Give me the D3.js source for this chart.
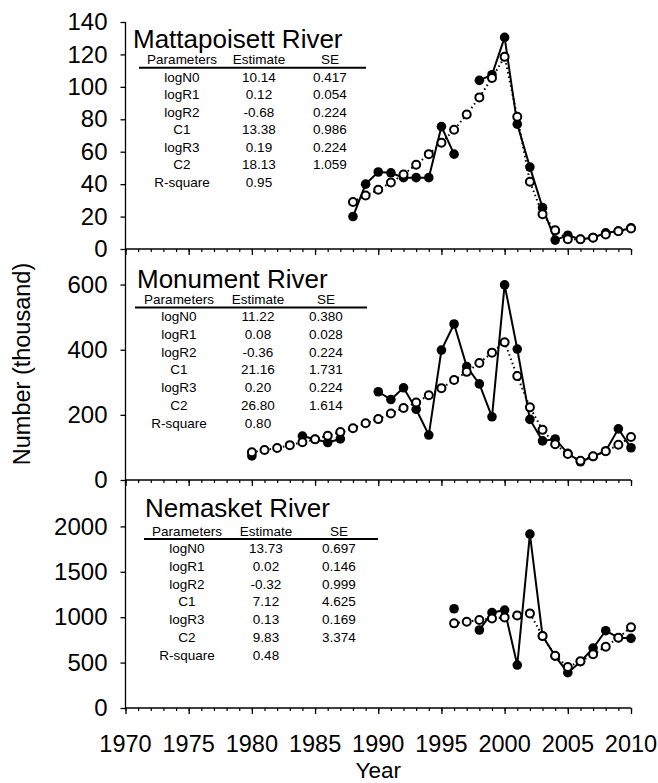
<!DOCTYPE html>
<html><head><meta charset="utf-8">
<script src="https://cdn.jsdelivr.net/npm/d3@7/dist/d3.min.js"></script>
<style>body{margin:0;background:#fff}svg{display:block;font-family:"Liberation Sans",Arial,sans-serif}</style>
</head><body><svg id="c" width="658" height="783"></svg>
<script>
// ---------- data ----------
const years1 = d3.range(1988, 2011);
const observed1 = [20, 40, 47.5, 47, 44, 44, 44, 75.5, 58.5, null, 104, 107.5, 130.5, 77, 50.5, 25.5, 5.5, 8.5, 6, 7, 10, 11, 13];
const predicted1 = [29, 33, 36.5, 41, 46, 52, 58.5, 65.5, 73.5, 83, 93.5, 105.5, 118.5, 81.5, 41.5, 21.5, 11.5, 6, 6, 7, 9, 11, 12.7];

const years2 = d3.range(1980, 2011);
const observed2 = [74, null, null, null, 135, 125, 115, 126, null, null, 271, 247, 283, 217, 138, 399, 479, 348, 295, 194, 599, 402, 186, 120, 126, 82, 56, 72, 89, 157, 99];
const predicted2 = [85, 92, 98, 107, 116, 125, 136, 147, 159, 174, 187, 204, 221, 238, 260, 282, 307, 332, 359, 391, 423, 319, 223, 154, 110, 80, 59, 73, 88, 108, 132];

const years3 = d3.range(1996, 2011);
const observed3 = [1093, null, 859, 1050, 1079, 473, 1916, 793, 572, 389, 510, 660, 851, 774, 767];
const predicted3 = [932, 950, 969, 987, 998, 1020, 1042, 793, 576, 451, 514, 591, 675, 774, 888];

const riverNames = ["Mattapoisett River", "Monument River", "Nemasket River"];
const yMax = [140, 700, 2500];
const yTicks1 = [0, 20, 40, 60, 80, 100, 120, 140];
const yTicks2 = [0, 200, 400, 600];
const yTicks3 = [0, 500, 1000, 1500, 2000];
const xTickLabels = [1970, 1975, 1980, 1985, 1990, 1995, 2000, 2005, 2010];

const tableHeader = ["Parameters", "Estimate", "SE"];
const paramNames = ["logN0", "logR1", "logR2", "C1", "logR3", "C2", "R-square"];
const estimates1 = ["10.14", "0.12", "-0.68", "13.38", "0.19", "18.13", "0.95"];
const se1 = ["0.417", "0.054", "0.224", "0.986", "0.224", "1.059", ""];
const estimates2 = ["11.22", "0.08", "-0.36", "21.16", "0.20", "26.80", "0.80"];
const se2 = ["0.380", "0.028", "0.224", "1.731", "0.224", "1.614", ""];
const estimates3 = ["13.73", "0.02", "-0.32", "7.12", "0.13", "9.83", "0.48"];
const se3 = ["0.697", "0.146", "0.999", "4.625", "0.169", "3.374", ""];

// ---------- layout ----------
const svg = d3.select("#c");
const axisX = 125.5;
const x = d3.scaleLinear().domain([1970, 2010]).range([axisX, 631]);

const panels = [
  {years: years1, obs: observed1, pred: predicted1, max: yMax[0], ticks: yTicks1, range: [249, 22], est: estimates1, se: se1,
   title: {x: 133, y: 47.5}, head: 64.3, line: {y: 67.7, x1: 139, x2: 366}, row0: 82, step: 17.45, cols: [182, 259, 330]},
  {years: years2, obs: observed2, pred: predicted2, max: yMax[1], ticks: yTicks2, range: [480, 252], est: estimates2, se: se2,
   title: {x: 137, y: 287.5}, head: 304.3, line: {y: 307.5, x1: 135, x2: 367}, row0: 320.7, step: 17.9, cols: [179, 258, 326]},
  {years: years3, obs: observed3, pred: predicted3, max: yMax[2], ticks: yTicks3, range: [708, 481], est: estimates3, se: se3,
   title: {x: 145, y: 516.7}, head: 535.7, line: {y: 539, x1: 144, x2: 378}, row0: 553, step: 17.8, cols: [187, 266, 339]}
];

// continuous y axis line
svg.append("line").attr("x1", axisX).attr("x2", axisX).attr("y1", 22).attr("y2", 708)
  .attr("stroke", "#000").attr("stroke-width", 1.3);

panels.forEach((p, i) => {
  const y = d3.scaleLinear().domain([0, p.max]).range(p.range);
  const base = p.range[0];

  // y axis
  const ya = svg.append("g").attr("transform", `translate(${axisX},0)`)
    .call(d3.axisLeft(y).tickValues(p.ticks).tickSize(5).tickPadding(13).tickFormat(d3.format("d")));
  ya.select(".domain").remove();
  ya.selectAll("line").attr("stroke-width", 1.3);
  ya.selectAll("text").attr("font-size", 24).attr("fill", "#000").attr("font-family", "Liberation Sans, Arial, sans-serif");

  // x axis: minor and major ticks
  const xm = svg.append("g").attr("transform", `translate(0,${base})`)
    .call(d3.axisBottom(x).tickValues(d3.range(1970, 2011)).tickSize(3).tickFormat(""));
  xm.select(".domain").remove();
  xm.selectAll("line").attr("stroke-width", 1.2);
  const xM = svg.append("g").attr("transform", `translate(0,${base})`)
    .call(d3.axisBottom(x).tickValues(xTickLabels).tickSize(6).tickFormat(""));
  xM.select(".domain").remove();
  xM.selectAll("line").attr("stroke-width", 1.3);
  svg.append("line").attr("x1", axisX).attr("x2", x(2010)).attr("y1", base).attr("y2", base)
    .attr("stroke", "#000").attr("stroke-width", 1.3);

  const obsPts = p.years.map((yr, k) => ({yr, v: p.obs[k]}));
  const predPts = p.years.map((yr, k) => ({yr, v: p.pred[k]}));
  const line = d3.line().defined(d => d.v != null).x(d => x(d.yr)).y(d => y(d.v));

  svg.append("path").datum(obsPts).attr("d", line).attr("fill", "none")
    .attr("stroke", "#000").attr("stroke-width", 2);
  svg.append("path").datum(predPts).attr("d", line).attr("fill", "none")
    .attr("stroke", "#000").attr("stroke-width", 2).attr("stroke-dasharray", "1.5,3");

  svg.append("g").selectAll("circle").data(obsPts.filter(d => d.v != null)).join("circle")
    .attr("cx", d => x(d.yr)).attr("cy", d => y(d.v)).attr("r", 4.8).attr("fill", "#000");
  svg.append("g").selectAll("circle").data(predPts).join("circle")
    .attr("cx", d => x(d.yr)).attr("cy", d => y(d.v)).attr("r", 4)
    .attr("fill", "#fff").attr("stroke", "#000").attr("stroke-width", 2);

  // title and table
  svg.append("text").attr("x", p.title.x).attr("y", p.title.y).attr("font-size", 26).text(riverNames[i]);
  const tg = svg.append("g").attr("font-size", 13.5).attr("text-anchor", "middle");
  tableHeader.forEach((h, c) => tg.append("text").attr("x", p.cols[c]).attr("y", p.head).text(h));
  tg.append("line").attr("x1", p.line.x1).attr("x2", p.line.x2).attr("y1", p.line.y).attr("y2", p.line.y)
    .attr("stroke", "#000").attr("stroke-width", 2);
  paramNames.forEach((n, r) => {
    const yy = p.row0 + r * p.step;
    tg.append("text").attr("x", p.cols[0]).attr("y", yy).text(n);
    tg.append("text").attr("x", p.cols[1]).attr("y", yy).text(p.est[r]);
    tg.append("text").attr("x", p.cols[2]).attr("y", yy).text(p.se[r]);
  });
});

// x tick labels (bottom)
svg.append("g").attr("font-size", 23.5).attr("text-anchor", "middle").selectAll("text")
  .data(xTickLabels).join("text").attr("x", d => x(d)).attr("y", 752).text(d => d);

svg.append("text").attr("x", x(1990)).attr("y", 777.5).attr("text-anchor", "middle").attr("font-size", 22.5).text("Year");
svg.append("text").attr("transform", "translate(30,364) rotate(-90)").attr("text-anchor", "middle")
  .attr("font-size", 23.5).text("Number (thousand)");
</script></body></html>
